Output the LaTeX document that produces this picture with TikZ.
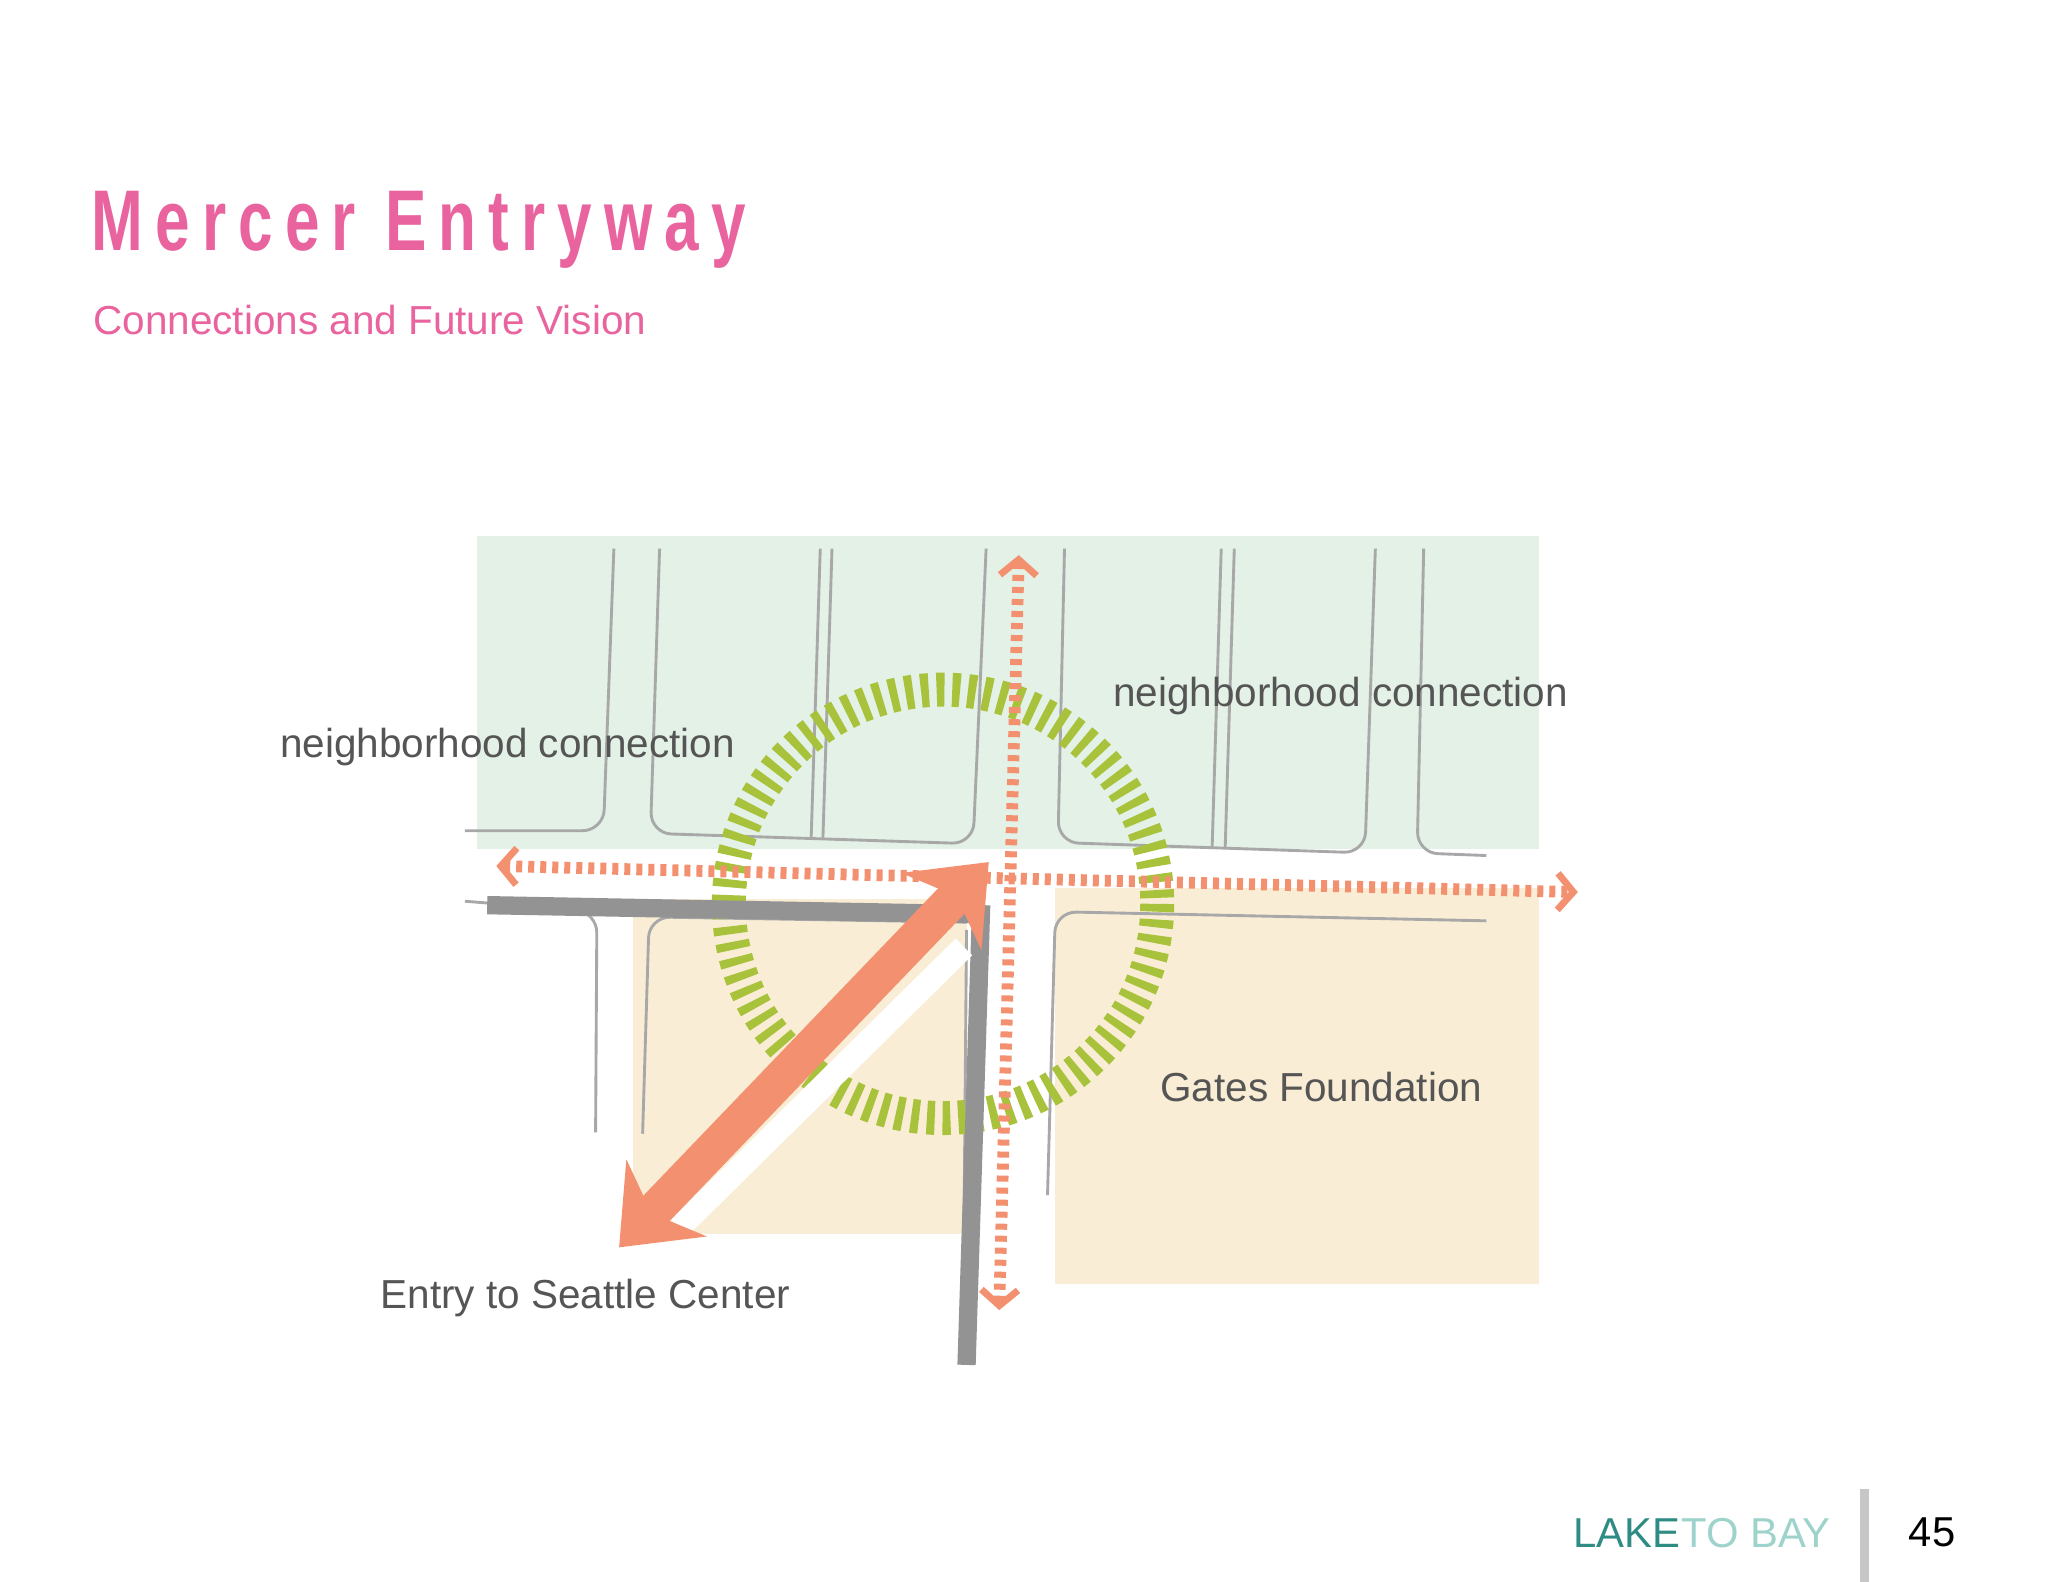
\documentclass[tikz,border=0pt]{standalone}
\usepackage{fontspec}
\setmainfont{Liberation Sans}
\newfontfamily\titlefont[LetterSpace=14,FakeStretch=0.72]{Liberation Sans}
\usetikzlibrary{arrows.meta}
\definecolor{pinkt}{HTML}{E9649E}
\definecolor{greenbg}{HTML}{E3F1E6}
\definecolor{orbg}{HTML}{FAEDD5}
\definecolor{salmon}{HTML}{F3906F}
\definecolor{lime}{HTML}{A9C23B}
\definecolor{street}{HTML}{A8A8A8}
\definecolor{txt}{HTML}{555555}
\definecolor{teal}{HTML}{2E8C84}
\definecolor{lteal}{HTML}{9ED3CB}
\tikzset{
  st/.style={draw=street,line width=1.1,rounded corners=8},
  dotl/.style={salmon,line width=4.5,dash pattern=on 2.3 off 2.3},
  chev/.tip={Straight Barb[length=6,width=14,line width=2.6]},
  lbl/.style={text=txt,font=\fontsize{15.5}{18}\selectfont,inner sep=0,anchor=base west},
}
\begin{document}
\begin{tikzpicture}[x=0.5pt,y=-0.5pt]
\useasboundingbox[fill=white] (0,0) rectangle (1568,1211);
% backgrounds
\fill[greenbg] (365,410) rectangle (1178,650);
\fill[orbg] (485,688) rectangle (740,945);
\fill[orbg] (808,680) rectangle (1178,983);
% streets
\draw[st] (470,420) -- (462,636) -- (356,636);
\draw[st] (505,420) -- (498,638) -- (745,646) -- (755,420);
\draw[st] (628,420) -- (621,643);
\draw[st] (637,420) -- (630,643);
\draw[st] (815,420) -- (810,645) -- (1045,653) -- (1053,420);
\draw[st] (935,420) -- (928,650);
\draw[st] (945,420) -- (938,650);
\draw[st] (1090,420) -- (1085,653) -- (1138,655);
\draw[st] (356,690) -- (457,698) -- (456,867);
\draw[st] (492,868) -- (497,702) -- (740,706);
\draw[st] (740,712) -- (738,945);
\draw[st] (802,915) -- (808,698) -- (1138,705);
% circle
\draw[lime,line width=13,dash pattern=on 3 off 3] (722,692) circle (164);
% dotted lines
\coordinate (hl) at (380,663); \coordinate (hr) at (1208,683);
\coordinate (vt) at (780,425); \coordinate (vb) at (765,1003);
\draw[dotl,{chev}-{chev}] (hl) -- (hr);
\draw[dotl,{chev}-{chev}] (vt) -- (vb);
% gray road
\coordinate (g1) at (373,693); \coordinate (g2) at (751,700); \coordinate (g3) at (740,1045);
\draw[gray!85,line width=7] (g1) -- (g2) -- (g3);
% white band + orange arrow
\coordinate (wa) at (738,725); \coordinate (wb) at (520,940);
\draw[white,line width=9] (wa) -- (wb);
\coordinate (aa) at (757,660); \coordinate (ab) at (474,955);
\draw[salmon,line width=14,{Stealth[length=26,width=42,inset=8]}-{Stealth[length=26,width=42,inset=8]}] (ab) -- (aa);
% texts
\node[anchor=base west,text=pinkt,inner sep=0,font=\titlefont\bfseries\fontsize{33}{40}\selectfont] (title) at (70,192) {Mercer Entryway};
\node[anchor=base west,text=pinkt,inner sep=0,font=\fontsize{15.5}{18}\selectfont] (sub) at (71,256) {Connections and Future Vision};
\node[lbl] (n1) at (214,580) {neighborhood connection};
\node[lbl] (n2) at (852,541) {neighborhood connection};
\node[lbl] (gf) at (888,843) {Gates Foundation};
\node[lbl] (es) at (291,1002) {Entry to Seattle Center};
% footer
\node[anchor=base west,inner sep=0,font=\fontsize{16}{20}\selectfont] (lb) at (1204,1185) {\textcolor{teal}{LAKE}\kern0.5pt\textcolor{lteal}{TO BAY}};
\fill[black!22] (1424,1140) rectangle (1431,1211);
\node[anchor=base west,inner sep=0,font=\fontsize{16}{20}\selectfont] (pg) at (1461,1184) {45};
\end{tikzpicture}
\end{document}
